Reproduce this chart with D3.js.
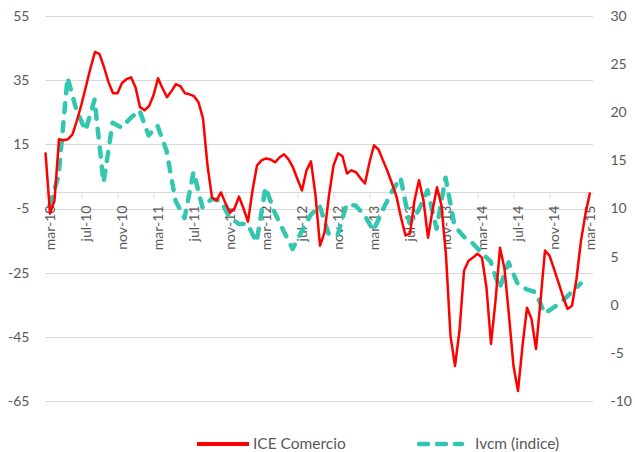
<!DOCTYPE html>
<html>
<head>
<meta charset="utf-8">
<script src="https://cdn.jsdelivr.net/npm/d3@7"></script>
<style>
  body { margin: 0; background: #fff; }
  text { font-family: Lato, "Open Sans", sans-serif; fill: #595959; }
</style>
</head>
<body>
<div id="chart"></div>
<script>
// ICE Comercio, half-month steps from mar-10 (left axis)
var iceComercio = [
  12.5, -6.6, -2.5, 16.6, 16.3, 16.6, 18.1, 22.5, 27.5, 33.1,
  38.8, 43.8, 43.1, 39.1, 34.4, 30.9, 30.9, 34.1, 35.3, 35.9,
  32.8, 26.6, 25.6, 26.9, 30.3, 35.6, 32.5, 29.7, 31.6, 33.8,
  33.1, 30.9, 30.6, 30.0, 28.1, 23.1, 8.4, -1.6, -2.5, 0.0,
  -3.4, -6.3, -5.0, -1.3, -5.0, -9.1, 0.6, 8.4, 10.0, 10.6,
  10.3, 9.4, 10.9, 11.9, 10.3, 7.8, 4.1, 0.6, 6.9, 9.7,
  -0.9, -16.6, -12.5, -0.9, 8.4, 12.2, 11.3, 5.9, 6.9, 6.3,
  4.4, 2.8, 9.4, 14.7, 13.4, 10.0, 6.6, 2.8, -1.3, -7.8,
  -13.4, -12.8, -2.5, 3.8, -2.5, -14.1, -5.6, 1.6, -4.1, -19.7,
  -44.7, -54.1, -43.1, -24.4, -21.3, -20.3, -19.1, -20.3, -29.7, -47.2,
  -33.8, -17.2, -23.8, -38.4, -54.1, -61.9, -47.8, -35.9, -39.4, -48.8,
  -33.8, -18.1, -19.7, -23.8, -28.1, -32.5, -36.3, -35.3, -26.9, -15.0,
  -6.6, 0.0
];

// Ivcm (indice), monthly from mar-10 (right axis)
var ivcm = [
  10.3, 13.4, 23.6, 20.2, 18.1, 21.3, 12.7, 18.9, 18.4, 19.4,
  20.2, 17.6, 18.6, 16.0, 10.8, 9.0, 13.8, 10.1, 11.0, 10.8,
  9.1, 8.4, 8.4, 6.5, 12.2, 9.6, 7.7, 5.8, 7.6, 9.3,
  10.3, 7.4, 7.2, 10.4, 10.3, 9.3, 7.7, 9.8, 11.7, 13.2,
  8.5, 9.8, 11.9, 7.9, 13.2, 8.2, 7.1, 6.4, 5.4, 4.5,
  1.7, 4.4, 2.2, 1.6, 1.3, -0.9, -0.3, 0.4, 1.3, 2.2
];

var monthNames = ["ene", "feb", "mar", "abr", "may", "jun", "jul", "ago", "sep", "oct", "nov", "dic"];
var leftTicks = [-65, -45, -25, -5, 15, 35, 55];
var rightTicks = [-10, -5, 0, 5, 10, 15, 20, 25, 30];
var seriesNames = ["ICE Comercio", "Ivcm (indice)"];

var W = 635, H = 452;
var margin = {top: 16, right: 42, bottom: 51, left: 45.5};
var width = 594.5 - margin.left, height = 401 - margin.top;

var svg = d3.select("#chart")
  .append("svg")
    .attr("width", W)
    .attr("height", H);

var g = svg.append("g")
    .attr("transform", "translate(" + margin.left + "," + margin.top + ")");

// x in months since start of mar-10
var x = d3.scaleLinear().domain([0, 61]).range([0, width]);
var yL = d3.scaleLinear().domain([-65, 55]).range([height, 0]);
var yR = d3.scaleLinear().domain([-10, 30]).range([height, 0]);

// gridlines
g.selectAll(".grid")
  .data(leftTicks)
  .enter().append("line")
    .attr("x1", 0)
    .attr("x2", width - 1.5)
    .attr("y1", function(d) { return Math.round(yL(d)) + 0.5; })
    .attr("y2", function(d) { return Math.round(yL(d)) + 0.5; })
    .attr("stroke", "#d9d9d9")
    .attr("stroke-width", 1);

// left axis labels
g.selectAll(".ltick")
  .data(leftTicks)
  .enter().append("text")
    .attr("x", -16)
    .attr("y", function(d) { return yL(d); })
    .attr("dy", "0.35em")
    .attr("text-anchor", "end")
    .style("font-size", "14px")
    .text(function(d) { return d; });

// right axis labels
g.selectAll(".rtick")
  .data(rightTicks)
  .enter().append("text")
    .attr("x", width + 16)
    .attr("y", function(d) { return yR(d); })
    .attr("dy", "0.35em")
    .attr("text-anchor", "start")
    .style("font-size", "14px")
    .text(function(d) { return d; });

// category axis crossing at 0
var y0 = Math.round(yL(0)) + 0.5;
g.append("line")
  .attr("x1", 0).attr("x2", width - 1.5)
  .attr("y1", y0).attr("y2", y0)
  .attr("stroke", "#d9d9d9");

var tickMonths = d3.range(0, 61, 4);
g.selectAll(".xtick")
  .data(tickMonths)
  .enter().append("line")
    .attr("x1", function(d) { return Math.round(x(d)) + 0.5; })
    .attr("x2", function(d) { return Math.round(x(d)) + 0.5; })
    .attr("y1", y0)
    .attr("y2", y0 + 6)
    .attr("stroke", "#d9d9d9");

g.selectAll(".xlab")
  .data(tickMonths)
  .enter().append("text")
    .attr("transform", function(d) {
      return "translate(" + x(d + 0.5) + "," + (y0 + 13) + ") rotate(-90)";
    })
    .attr("dy", "0.35em")
    .attr("text-anchor", "end")
    .style("font-size", "14px")
    .text(function(d) {
      var m = (2 + d) % 12, yr = 10 + Math.floor((2 + d) / 12);
      return monthNames[m] + "-" + yr;
    });

// lines
var redLine = d3.line()
  .x(function(d, i) { return x(i / 2); })
  .y(function(d) { return yL(d); });

var tealLine = d3.line()
  .x(function(d, i) { return x(i + 0.45); })
  .y(function(d) { return yR(d); });

g.append("path")
  .attr("d", tealLine(ivcm))
  .attr("fill", "none")
  .attr("stroke", "#33c7b0")
  .attr("stroke-width", 4.5)
  .attr("stroke-dasharray", "9,10")
  .attr("stroke-linecap", "round")
  .attr("stroke-linejoin", "round");

g.append("path")
  .attr("d", redLine(iceComercio))
  .attr("fill", "none")
  .attr("stroke", "#ff0000")
  .attr("stroke-width", 2.5)
  .attr("stroke-linejoin", "round");

// legend
var legend = svg.append("g");
legend.append("line")
  .attr("x1", 197).attr("x2", 249)
  .attr("y1", 444).attr("y2", 444)
  .attr("stroke", "#ff0000").attr("stroke-width", 4);
legend.append("text")
  .attr("x", 253).attr("y", 444).attr("dy", "0.35em")
  .style("font-size", "15.5px")
  .text(seriesNames[0]);
legend.append("line")
  .attr("x1", 419).attr("x2", 462)
  .attr("y1", 444).attr("y2", 444)
  .attr("stroke", "#33c7b0").attr("stroke-width", 4.5)
  .attr("stroke-dasharray", "9,9")
  .attr("stroke-linecap", "round");
legend.append("text")
  .attr("x", 475).attr("y", 444).attr("dy", "0.35em")
  .style("font-size", "15.5px")
  .text(seriesNames[1]);
</script>
</body>
</html>
